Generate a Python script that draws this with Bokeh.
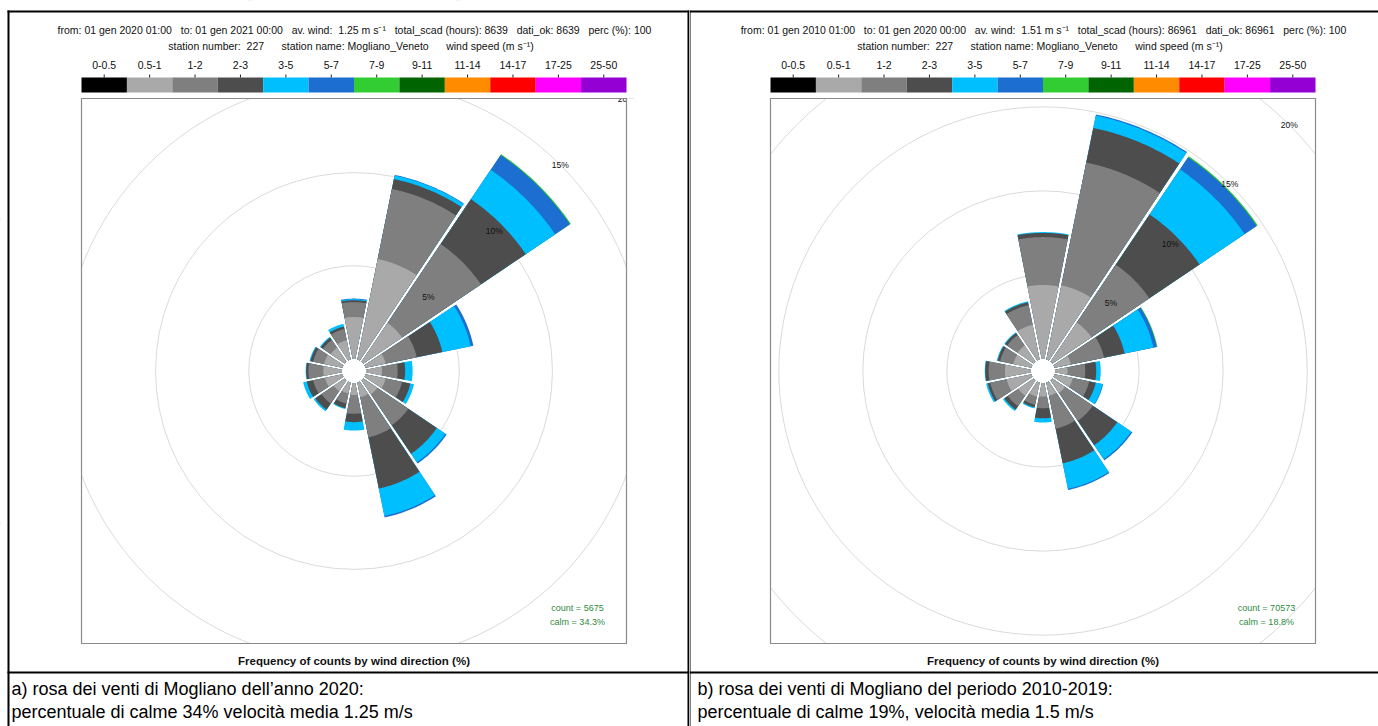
import math
import numpy as np
from bokeh.plotting import figure
from bokeh.models import Range1d
from bokeh.layouts import row
from bokeh.embed import file_html
from bokeh.resources import INLINE
from bokeh.core.properties import value

# ---------------------------------------------------------------- data
directions = [0.0, 22.5, 45.0, 67.5, 90.0, 112.5, 135.0, 157.5,
              180.0, 202.5, 225.0, 247.5, 270.0, 292.5, 315.0, 337.5]

speed_bins = ["0-0.5", "0.5-1", "1-2", "2-3", "3-5", "5-7",
              "7-9", "9-11", "11-14", "14-17", "17-25", "25-50"]
bin_colors = ["#000000", "#A9A9A9", "#7F7F7F", "#4D4D4D", "#00BFFF", "#1C6FD0",
              "#32CD32", "#006400", "#FF8C00", "#FF0000", "#FF00FF", "#9400D3"]

# Mogliano Veneto, year 2020: frequency (% of hours) by direction, per speed class
y2020_05_1 = [2.25, 5.50, 2.50, 1.10, 0.86, 1.10, 0.90, 0.80, 0.65, 0.60, 0.70, 0.95, 1.00, 1.00, 0.90, 1.05]
y2020_1_2 = [0.80, 3.83, 5.10, 1.70, 0.84, 0.90, 2.00, 2.20, 1.00, 0.55, 0.80, 0.65, 0.80, 0.60, 0.50, 0.62]
y2020_2_3 = [0.10, 0.54, 2.90, 1.40, 0.40, 0.45, 1.85, 2.80, 0.45, 0.25, 0.40, 0.35, 0.12, 0.15, 0.15, 0.13]
y2020_3_5 = [0.06, 0.20, 1.90, 1.55, 0.40, 0.20, 0.55, 1.50, 0.45, 0.05, 0.10, 0.20, 0.03, 0.05, 0.05, 0.15]
y2020_5_7 = [0.03, 0.03, 0.96, 0.15, 0.00, 0.00, 0.08, 0.08, 0.00, 0.00, 0.00, 0.00, 0.00, 0.00, 0.00, 0.00]
y2020_7_9 = [0.00, 0.00, 0.05, 0.00, 0.00, 0.00, 0.00, 0.00, 0.00, 0.00, 0.00, 0.00, 0.00, 0.00, 0.00, 0.00]

# Mogliano Veneto, period 2010-2019
p2010_05_1 = [4.40, 4.50, 2.80, 1.00, 0.75, 1.10, 0.90, 0.80, 0.80, 0.85, 1.10, 1.50, 1.55, 1.10, 1.15, 2.10]
p2010_1_2 = [2.85, 7.45, 4.15, 2.00, 1.05, 1.00, 2.00, 2.00, 0.70, 0.50, 0.75, 1.00, 0.97, 0.80, 0.75, 1.20]
p2010_2_3 = [0.25, 2.10, 3.60, 1.25, 0.65, 0.40, 1.75, 2.10, 0.60, 0.15, 0.25, 0.15, 0.20, 0.15, 0.15, 0.17]
p2010_3_5 = [0.05, 0.75, 3.23, 1.75, 0.27, 0.42, 1.00, 1.55, 0.25, 0.07, 0.10, 0.10, 0.03, 0.05, 0.05, 0.06]
p2010_5_7 = [0.00, 0.07, 0.87, 0.20, 0.00, 0.03, 0.08, 0.07, 0.00, 0.00, 0.00, 0.00, 0.00, 0.00, 0.00, 0.00]
p2010_7_9 = [0.00, 0.00, 0.07, 0.04, 0.00, 0.00, 0.00, 0.00, 0.00, 0.00, 0.00, 0.00, 0.00, 0.00, 0.00, 0.00]

ring_levels = [5, 10, 15, 20]

NB = "\u00a0"  # keeps runs of spaces in the header lines


def spaced(*parts, gap=3):
    return (NB * gap).join(p.replace(" ", NB) for p in parts)


panels = [
    dict(
        classes=[y2020_05_1, y2020_1_2, y2020_2_3, y2020_3_5, y2020_5_7, y2020_7_9],
        line1=spaced("from: 01 gen 2020 01:00", "to: 01 gen 2021 00:00",
                     "av. wind:  1.25 m s\u207b\u00b9", "total_scad (hours): 8639",
                     "dati_ok: 8639", "perc (%): 100"),
        count="count = 5675", calm="calm = 34.3%",
        caption=["a) rosa dei venti di Mogliano dell\u2019anno 2020:",
                 "percentuale di calme 34% velocit\u00e0 media 1.25 m/s"],
        caption_x=11,
    ),
    dict(
        classes=[p2010_05_1, p2010_1_2, p2010_2_3, p2010_3_5, p2010_5_7, p2010_7_9],
        line1=spaced("from: 01 gen 2010 01:00", "to: 01 gen 2020 00:00",
                     "av. wind:  1.51 m s\u207b\u00b9", "total_scad (hours): 86961",
                     "dati_ok: 86961", "perc (%): 100"),
        count="count = 70573", calm="calm = 18.8%",
        caption=["b) rosa dei venti di Mogliano del periodo 2010-2019:",
                 "percentuale di calme 19%, velocit\u00e0 media 1.5 m/s"],
        caption_x=8,
    ),
]

line2 = spaced("station number:  227", "station name: Mogliano_Veneto",
               "wind speed (m s\u207b\u00b9)", gap=6)

# ---------------------------------------------------------------- layout (px)
W, H = 689, 726
BOX_L, BOX_T, BOX_R, BOX_B = 81, 98, 626, 643
CX, CY = (BOX_L + BOX_R) / 2, (BOX_T + BOX_B) / 2
HALF = (BOX_R - BOX_L) / 2
FONT = value("Liberation Sans")


def sector_patch(theta, r0, r1, half, gap, inset, n=28):
    """Annular sector (compass angle theta) with a constant-width gap on its sides."""
    def edges(r):
        d = math.degrees(math.asin(min(1.0, gap / r)))
        return theta - half + inset + d, theta + half - inset - d
    a0, a1 = edges(r1)
    b0, b1 = edges(r0)
    outer = np.radians(np.linspace(a0, a1, n))
    inner = np.radians(np.linspace(b1, b0, n))
    xs = np.concatenate([r1 * np.sin(outer), r0 * np.sin(inner)])
    ys = np.concatenate([r1 * np.cos(outer), r0 * np.cos(inner)])
    return list(xs), list(ys)


def build_panel(cfg):
    classes = cfg["classes"]
    totals = np.sum(np.array(classes), axis=0)
    max_freq = float(totals.max())
    hole = 0.048 * max_freq
    extent = 1.04 * (max_freq + hole)
    k = HALF / extent  # px per percent

    p = figure(width=W, height=H, output_backend="svg", toolbar_location=None,
               x_range=Range1d(0, W), y_range=Range1d(H, 0),
               x_axis_location=None, y_axis_location=None, min_border=0)
    p.grid.visible = False
    p.outline_line_color = None
    p.background_fill_color = "white"
    p.border_fill_color = "white"
    p.extra_x_ranges = {"rose": Range1d(-CX / k, (W - CX) / k)}
    p.extra_y_ranges = {"rose": Range1d(-(H - CY) / k, CY / k)}
    rose = dict(x_range_name="rose", y_range_name="rose")

    # grid rings
    ring_r = [lv + hole for lv in ring_levels]
    p.circle(x=[0] * len(ring_r), y=[0] * len(ring_r), radius=ring_r,
             fill_color=None, line_color="#DADADA", line_width=1, **rose)

    # stacked sectors: cumulative sectors drawn from the outermost class inwards
    step = 360.0 / len(directions)
    gap = 1.0 / k
    xs_all, ys_all, cols = [], [], []
    cum = np.cumsum(np.array(classes), axis=0)
    for j, theta in enumerate(directions):
        for ci in range(len(classes) - 1, -1, -1):
            if classes[ci][j] <= 0:
                continue
            xs, ys = sector_patch(theta, hole, hole + cum[ci][j], step / 2, gap, 0.2)
            xs_all.append(xs)
            ys_all.append(ys)
            cols.append(bin_colors[ci + 1])
    p.patches(xs_all, ys_all, fill_color=cols, line_color=None, **rose)

    # ring labels along the NE diagonal
    s45 = math.sin(math.radians(45))
    p.text(x=[r * s45 for r in ring_r], y=[r * s45 for r in ring_r],
           text=[f"{lv}%" for lv in ring_levels], text_font=FONT, text_font_size="8.5px",
           text_color="#111111", text_align="center", text_baseline="middle", **rose)

    # white surround clipping the panel to its box
    p.quad(left=[0, 0, 0, BOX_R], right=[W, W, BOX_L, W],
           top=[0, BOX_B, BOX_T, BOX_T], bottom=[BOX_T, H, BOX_B, BOX_B],
           fill_color="white", line_color=None)
    p.quad(left=[BOX_L], right=[BOX_R], top=[BOX_T], bottom=[BOX_B],
           fill_color=None, line_color="#8A8A8A", line_width=1.2)

    # header
    p.text(x=[(BOX_L + BOX_R) / 2 + 0.5, (BOX_L + BOX_R) / 2 - 3], y=[29, 45],
           text=[cfg["line1"], line2], text_font=FONT, text_font_size="10.5px",
           text_color="#111111", text_align="center", text_baseline="middle")

    # speed-class colour key
    n = len(speed_bins)
    seg = (BOX_R - BOX_L) / n
    lefts = [BOX_L + i * seg for i in range(n)]
    p.quad(left=lefts, right=[l + seg for l in lefts], top=[77] * n, bottom=[92] * n,
           fill_color=bin_colors, line_color=None)
    centers = [l + seg / 2 for l in lefts]
    p.segment(x0=centers, y0=[74] * n, x1=centers, y1=[77] * n, line_color="#222222", line_width=1)
    p.text(x=centers, y=[64] * n, text=speed_bins, text_font=FONT, text_font_size="10.5px",
           text_color="#111111", text_align="center", text_baseline="middle")

    # count / calm
    p.text(x=[BOX_R - 49] * 2, y=[607, 621], text=[cfg["count"], cfg["calm"]],
           text_font=FONT, text_font_size="9px", text_color="#2E8B3E",
           text_align="center", text_baseline="middle")
    p.text(x=[CX], y=[660], text=["Frequency of counts by wind direction (%)"],
           text_font=FONT, text_font_size="11.5px", text_font_style="bold",
           text_color="#111111", text_align="center", text_baseline="middle")

    # caption cell
    p.text(x=[cfg["caption_x"]] * 2, y=[688, 711], text=cfg["caption"], text_font=FONT,
           text_font_size="18px", text_color="#000000", text_align="left",
           text_baseline="middle")
    return p


left = build_panel(panels[0])
right = build_panel(panels[1])

# table rules
left.quad(left=[7, 7], right=[W, 9], top=[10, 10], bottom=[12, H], fill_color="black", line_color=None)
left.quad(left=[7, 687], right=[W, 689], top=[671, 10], bottom=[673, H], fill_color="black", line_color=None)
right.quad(left=[0, 0], right=[W, 1], top=[10, 10], bottom=[12, H], fill_color="black", line_color=None)
right.quad(left=[0], right=[W], top=[671], bottom=[673], fill_color="black", line_color=None)

layout = row(left, right)
open("out.html", "w").write(file_html(layout, INLINE))
